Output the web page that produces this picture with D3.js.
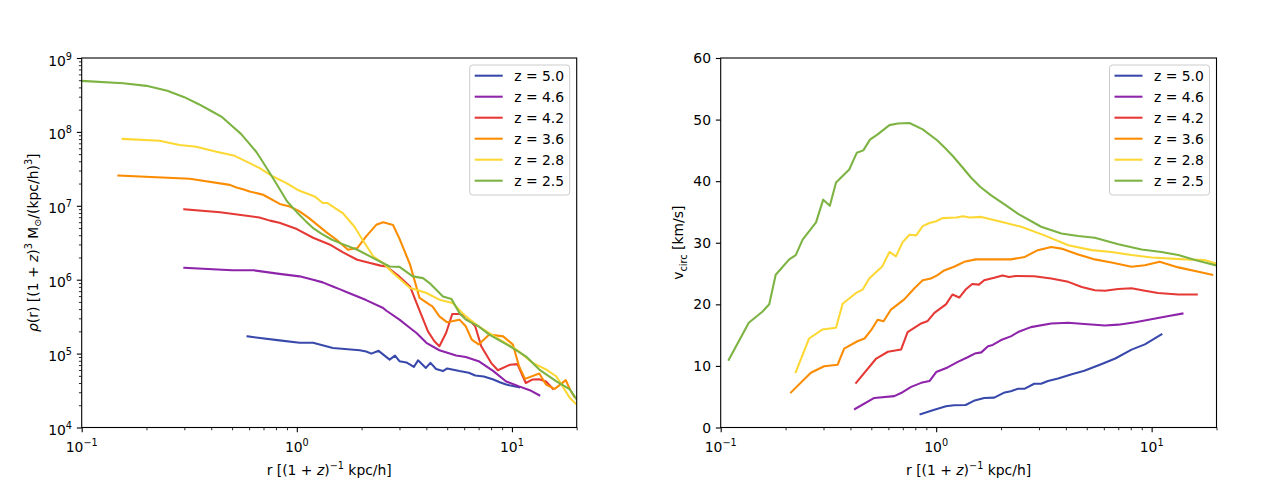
<!DOCTYPE html>
<html>
<head>
<meta charset="utf-8">
<script src="https://cdn.jsdelivr.net/npm/d3@7"></script>
<style>
  body { margin: 0; background: #fff; }
  text { font-family: "DejaVu Sans", sans-serif; fill: #000; }
</style>
</head>
<body>
<div id="chart"></div>
<script>
// Series labels and colours (same order in both panels and legends)
var zLabels = ["z = 5.0", "z = 4.6", "z = 4.2", "z = 3.6", "z = 2.8", "z = 2.5"];
var zColors = ["#3949ab", "#8e24aa", "#e53935", "#fb8c00", "#fdd835", "#7cb342"];

// Density profiles, [r, rho]
var rho50 = [[0.59,1.71e5],[0.83,1.51e5],[1.03,1.4e5],[1.19,1.4e5],[1.47,1.19e5],[1.96,1.11e5],[2.1,1.07e5],[2.22,1.0e5],[2.4,1.09e5],[2.7,8.3e4],[2.86,9.4e4],[3.0,7.9e4],[3.23,7.6e4],[3.5,6.6e4],[3.66,8.1e4],[3.98,6.4e4],[4.18,7.5e4],[4.44,6.2e4],[4.78,5.8e4],[5.0,6.3e4],[5.7,5.8e4],[6.3,5.5e4],[6.75,5.05e4],[7.4,4.9e4],[8.2,4.47e4],[8.78,4.1e4],[9.4,3.81e4],[10.8,3.5e4]];
var rho46 = [[0.3,1.45e6],[0.5,1.34e6],[0.63,1.34e6],[0.83,1.2e6],[1.03,1.11e6],[1.19,1.0e6],[1.32,9.2e5],[1.47,8.1e5],[1.59,7.4e5],[1.7,6.8e5],[2.1,5.3e5],[2.52,4.14e5],[2.61,3.8e5],[3.0,2.88e5],[3.36,2.22e5],[3.6,1.9e5],[4.0,1.4e5],[4.6,1.11e5],[5.5,9.4e4],[6.1,9.0e4],[7.0,7.9e4],[8.2,5.8e4],[9.4,4.2e4],[10.8,3.6e4],[12.1,3.2e4],[13.4,2.73e4]];
var rho42 = [[0.3,9.0e6],[0.44,8.2e6],[0.67,6.96e6],[0.75,6.3e6],[0.83,5.9e6],[1.0,4.84e6],[1.19,3.7e6],[1.42,3.0e6],[1.64,2.34e6],[1.91,1.86e6],[2.19,1.68e6],[2.45,1.55e6],[2.61,1.51e6],[3.0,1.1e6],[3.36,8.1e5],[3.6,4.84e5],[4.07,2.0e5],[4.36,1.47e5],[4.6,1.26e5],[4.94,1.9e5],[5.28,3.44e5],[5.7,3.44e5],[6.1,3.19e5],[6.75,2.34e5],[7.2,1.26e5],[8.0,7.5e4],[8.6,5.94e4],[9.8,7.08e4],[10.6,7.2e4],[11.6,4.0e4],[12.5,4.47e4],[13.4,4.5e4],[14.4,4.2e4],[15.5,3.35e4]];
var rho36 = [[0.148,2.57e7],[0.318,2.32e7],[0.341,2.25e7],[0.488,1.92e7],[0.524,1.77e7],[0.562,1.68e7],[0.604,1.56e7],[0.672,1.45e7],[0.697,1.41e7],[0.833,1.06e7],[0.927,9.8e6],[1.03,8.4e6],[1.14,6.8e6],[1.37,4.4e6],[1.53,3.47e6],[1.73,2.54e6],[1.91,2.68e6],[2.1,3.85e6],[2.34,5.53e6],[2.52,6.0e6],[2.8,5.5e6],[3.0,3.6e6],[3.36,1.6e6],[3.72,5.66e5],[4.14,4.6e5],[4.27,4.36e5],[4.6,3.19e5],[5.0,2.65e5],[5.7,2.88e5],[6.1,2.34e5],[6.5,1.55e5],[7.0,1.33e5],[7.85,1.81e5],[9.1,1.71e5],[10.1,1.33e5],[10.8,6.7e4],[11.5,4.55e4],[13.4,5.37e4],[14.4,3.81e4],[15.8,3.33e4],[17.8,4.37e4],[18.6,3.27e4],[19.5,2.6e4]];
var rho28 = [[0.155,8.04e7],[0.23,7.6e7],[0.285,6.66e7],[0.341,6.3e7],[0.423,5.4e7],[0.514,4.74e7],[0.604,3.78e7],[0.672,3.23e7],[0.775,2.49e7],[0.895,2.03e7],[1.01,1.64e7],[1.21,1.34e7],[1.32,1.09e7],[1.39,1.09e7],[1.64,7.9e6],[1.85,5.25e6],[2.02,3.47e6],[2.27,2.06e6],[2.52,1.68e6],[2.8,1.23e6],[3.36,7.7e5],[3.6,7.3e5],[4.0,6.6e5],[4.6,5.37e5],[5.3,4.84e5],[6.1,3.19e5],[7.0,2.34e5],[8.78,1.55e5],[10.5,1.13e5],[12.5,7.5e4],[14.4,6.1e4],[16.1,4.9e4],[18.6,2.5e4],[20,2.04e4]];
var rho25 = [[0.1,4.9e8],[0.156,4.55e8],[0.2,4.2e8],[0.25,3.6e8],[0.3,2.95e8],[0.35,2.37e8],[0.4,1.92e8],[0.45,1.58e8],[0.5,1.2e8],[0.55,9.4e7],[0.6,7.0e7],[0.65,5.3e7],[0.7,3.8e7],[0.75,2.76e7],[0.8,2.03e7],[0.9,1.15e7],[1.0,8.2e6],[1.1,6.2e6],[1.2,4.9e6],[1.3,4.2e6],[1.45,3.5e6],[1.6,3.1e6],[1.91,2.54e6],[2.27,1.96e6],[2.7,1.51e6],[3.0,1.49e6],[3.46,1.11e6],[3.86,1.05e6],[4.14,9.0e5],[4.78,5.94e5],[5.23,5.5e5],[5.7,3.55e5],[6.1,2.88e5],[7.0,2.34e5],[7.85,1.81e5],[10.1,1.19e5],[11.6,9.2e4],[13.4,6.08e4],[16.1,4.2e4],[18.6,3.27e4],[20,2.39e4]];

// Circular velocity profiles, [r, v_circ]
var v50 = [[0.846,2.15],[0.981,2.9],[1.11,3.45],[1.21,3.6],[1.37,3.65],[1.51,4.4],[1.67,4.8],[1.86,4.85],[2.08,5.7],[2.22,5.9],[2.4,6.3],[2.58,6.3],[2.85,7.1],[3.07,7.1],[3.3,7.55],[3.68,7.95],[4.26,8.65],[4.87,9.2],[5.87,10.3],[6.78,11.2],[8.07,12.65],[9.3,13.5],[11.1,15.1]];
var v46 = [[0.42,3.0],[0.516,4.8],[0.639,5.1],[0.687,5.6],[0.765,6.6],[0.852,7.25],[0.931,7.55],[1.0,9.0],[1.13,9.75],[1.26,10.65],[1.4,11.4],[1.51,12.0],[1.62,12.2],[1.74,13.2],[1.83,13.4],[2.0,14.2],[2.22,14.8],[2.4,15.5],[2.75,16.3],[3.42,16.9],[4.1,17.0],[4.87,16.8],[6.07,16.55],[7.0,16.7],[8.4,17.1],[10.4,17.7],[12.0,18.1],[13.9,18.5]];
var v42 = [[0.425,7.25],[0.527,11.2],[0.597,12.3],[0.687,12.65],[0.737,15.5],[0.852,16.9],[0.914,17.3],[0.981,18.6],[1.11,20.0],[1.19,21.6],[1.28,21.1],[1.37,22.4],[1.47,23.3],[1.58,23.2],[1.67,23.9],[1.86,24.3],[2.03,24.7],[2.18,24.45],[2.34,24.6],[2.85,24.55],[3.42,24.2],[4.1,23.65],[4.74,22.8],[5.45,22.3],[6.07,22.2],[7.0,22.5],[8.07,22.6],[9.3,22.2],[10.7,21.85],[13.3,21.6],[16.2,21.6]];
var v36 = [[0.212,5.7],[0.262,8.9],[0.302,9.95],[0.349,10.2],[0.374,12.8],[0.431,14.0],[0.465,14.45],[0.499,15.8],[0.535,17.5],[0.57,17.25],[0.617,19.15],[0.711,20.8],[0.793,22.6],[0.866,23.9],[0.945,24.2],[1.01,24.7],[1.09,25.5],[1.21,26.1],[1.35,26.9],[1.53,27.3],[2.22,27.3],[2.58,27.7],[2.96,28.8],[3.42,29.3],[3.81,29.05],[4.56,28.1],[5.45,27.3],[6.51,26.8],[8.07,26.1],[9.3,26.35],[10.9,26.9],[13.3,26.0],[16.5,25.3],[19.1,24.8]];
var v28 = [[0.223,9.0],[0.257,14.45],[0.296,15.9],[0.343,16.2],[0.368,20.1],[0.425,21.85],[0.456,22.4],[0.489,24.2],[0.563,26.2],[0.607,28.5],[0.651,27.8],[0.699,30.1],[0.752,31.3],[0.808,31.2],[0.866,32.7],[0.931,33.2],[1.0,33.5],[1.07,34.0],[1.24,34.1],[1.33,34.3],[1.43,34.1],[1.62,34.2],[2.0,33.4],[2.48,32.6],[3.18,31.2],[4.1,29.6],[5.27,28.8],[6.51,28.5],[8.07,28.0],[9.99,27.6],[14.2,27.3],[17.6,27.2],[20,26.6]];
var v25 = [[0.109,11.0],[0.135,17.0],[0.156,18.8],[0.168,20.0],[0.18,24.8],[0.208,27.3],[0.223,28.0],[0.24,30.5],[0.277,33.3],[0.299,37.0],[0.321,36.0],[0.343,39.8],[0.374,41.1],[0.395,41.9],[0.428,44.6],[0.459,45.0],[0.493,46.75],[0.535,47.6],[0.607,49.1],[0.663,49.35],[0.752,49.45],[0.866,48.4],[1.013,46.6],[1.1,45.4],[1.2,44.0],[1.32,42.3],[1.45,40.6],[1.6,39.1],[1.8,37.7],[2.1,36.1],[2.4,34.7],[3.07,32.6],[3.81,31.5],[4.56,31.1],[5.45,30.8],[7.0,29.75],[8.98,28.9],[11.1,28.5],[13.3,28.0],[15.9,27.2],[20,26.3]];

var rhoSeries = [rho50, rho46, rho42, rho36, rho28, rho25];
var vSeries = [v50, v46, v42, v36, v28, v25];

// Tick values
var rMajor = [0.1, 1, 10];
var rhoMajor = [1e4, 1e5, 1e6, 1e7, 1e8, 1e9];
var vMajor = [0, 10, 20, 30, 40, 50, 60];

var W = 1280, H = 480;
var FS = 13.9;            // 10pt at 100 dpi
var TOP = 58, BOTTOM = 427.5;

function minorsOf(decades, maxV) {
    var out = [];
    decades.forEach(function(d) {
        for (var k = 2; k <= 9; k++) { if (k * d <= maxV * 1.0001) out.push(k * d); }
    });
    return out;
}

// Write a mathtext-like label made of parts: {t, it, sup, sub}
function richText(sel, parts, smallSize) {
    var shift = 0;
    parts.forEach(function(p) {
        var target = p.sup ? -6 : (p.sub ? 3.5 : 0);
        var ts = sel.append("tspan").text(p.t).attr("dy", target - shift);
        if (p.sup || p.sub) ts.style("font-size", smallSize + "px");
        if (p.it) ts.style("font-style", "italic");
        shift = target;
    });
}

function powLabel(v) {
    var e = Math.round(Math.log10(v));
    return [{t: "10"}, {t: (e < 0 ? "\u2212" : "") + Math.abs(e), sup: true}];
}

var svg = d3.select("#chart").append("svg")
    .attr("width", W)
    .attr("height", H);
svg.append("rect").attr("width", W).attr("height", H).attr("fill", "#fff");

function drawPanel(o) {
    var x = o.x, y = o.y;
    var x0 = x.range()[0], x1 = x.range()[1];
    var g = svg.append("g");

    g.append("clipPath").attr("id", o.id)
        .append("rect")
        .attr("x", x0).attr("y", TOP)
        .attr("width", x1 - x0).attr("height", BOTTOM - TOP);

    var line = d3.line()
        .x(function(d) { return x(d[0]); })
        .y(function(d) { return y(d[1]); });

    g.append("g").attr("clip-path", "url(#" + o.id + ")")
        .selectAll("path")
        .data(o.series)
        .enter()
        .append("path")
            .attr("d", line)
            .attr("fill", "none")
            .attr("stroke", function(d, i) { return zColors[i]; })
            .attr("stroke-width", 2.08)
            .attr("stroke-linejoin", "round")
            .attr("stroke-linecap", "square");

    // Spines
    g.append("rect")
        .attr("x", x0).attr("y", TOP)
        .attr("width", x1 - x0).attr("height", BOTTOM - TOP)
        .attr("fill", "none").attr("stroke", "#000").attr("stroke-width", 1.1);

    function tickAxis(gen, vals, size, width, tx, ty) {
        var a = g.append("g").attr("transform", "translate(" + tx + "," + ty + ")")
            .call(gen.tickValues(vals).tickSize(size).tickFormat(""));
        a.select(".domain").remove();
        a.selectAll(".tick line").attr("stroke", "#000").attr("stroke-width", width);
    }

    // x ticks (log)
    tickAxis(d3.axisBottom(x), o.xMinor, 2.78, 0.83, 0, BOTTOM);
    tickAxis(d3.axisBottom(x), rMajor, 4.86, 1.1, 0, BOTTOM);
    rMajor.forEach(function(v) {
        var t = g.append("text")
            .attr("x", x(v)).attr("y", BOTTOM + 24.5)
            .attr("text-anchor", "middle")
            .style("font-size", FS + "px");
        richText(t, powLabel(v), 9.7);
    });

    // y ticks
    if (o.yMinor) tickAxis(d3.axisLeft(y), o.yMinor, 2.78, 0.83, x0, 0);
    tickAxis(d3.axisLeft(y), o.yMajor, 4.86, 1.1, x0, 0);
    o.yMajor.forEach(function(v) {
        var t = g.append("text")
            .attr("x", x0 - 9.7).attr("y", y(v) + o.yLabelShift)
            .attr("text-anchor", "end")
            .style("font-size", FS + "px");
        if (o.yLog) richText(t, powLabel(v), 9.7);
        else t.text(v);
    });

    // Axis labels
    var xl = g.append("text")
        .attr("x", (x0 + x1) / 2).attr("y", 475)
        .attr("text-anchor", "middle")
        .style("font-size", FS + "px");
    richText(xl, [{t: "r [(1 + "}, {t: "z", it: true}, {t: ")"}, {t: "\u22121", sup: true}, {t: " kpc/h]"}], 9.7);

    var yl = g.append("text")
        .attr("transform", "translate(" + o.ylabelX + "," + (TOP + BOTTOM) / 2 + ") rotate(-90)")
        .attr("text-anchor", "middle")
        .style("font-size", FS + "px");
    richText(yl, o.ylabel, 9.7);

    // Legend
    var lx = x1 - 7 - 100, ly = TOP + 7;
    var lg = g.append("g").attr("class", "legend");
    lg.append("rect")
        .attr("x", lx).attr("y", ly)
        .attr("width", 100).attr("height", 130)
        .attr("rx", 3)
        .attr("fill", "#fff").attr("fill-opacity", 0.8)
        .attr("stroke", "#cccccc").attr("stroke-width", 1);
    zLabels.forEach(function(lab, i) {
        var cy = ly + 10.7 + 21 * i;
        lg.append("line")
            .attr("x1", lx + 5).attr("x2", lx + 33)
            .attr("y1", cy).attr("y2", cy)
            .attr("stroke", zColors[i])
            .attr("stroke-width", 2.08);
        lg.append("text")
            .attr("x", lx + 44.5).attr("y", cy + 5)
            .style("font-size", FS + "px")
            .text(lab);
    });
}

var rMinor = minorsOf([0.1, 1, 10], 20);

drawPanel({
    id: "clipL",
    x: d3.scaleLog().domain([0.1, 20]).range([81.7, 576.7]),
    y: d3.scaleLog().domain([1e4, 1e9]).range([BOTTOM, TOP]),
    series: rhoSeries,
    xMinor: rMinor,
    yMajor: rhoMajor,
    yMinor: minorsOf([1e4, 1e5, 1e6, 1e7, 1e8], 1e9),
    yLog: true,
    yLabelShift: 7.5,
    ylabelX: 37.5,
    ylabel: [{t: "\u03c1", it: true}, {t: "(r) [(1 + "}, {t: "z", it: true}, {t: ")"}, {t: "3", sup: true},
             {t: " M"}, {t: "\u2299", sub: true}, {t: "/(kpc/h)"}, {t: "3", sup: true}, {t: "]"}]
});

drawPanel({
    id: "clipR",
    x: d3.scaleLog().domain([0.1, 20]).range([720.7, 1216.5]),
    y: d3.scaleLinear().domain([0, 60]).range([BOTTOM, TOP]),
    series: vSeries,
    xMinor: rMinor,
    yMajor: vMajor,
    yMinor: null,
    yLog: false,
    yLabelShift: 5,
    ylabelX: 683,
    ylabel: [{t: "v"}, {t: "circ", sub: true}, {t: " [km/s]"}]
});
</script>
</body>
</html>
